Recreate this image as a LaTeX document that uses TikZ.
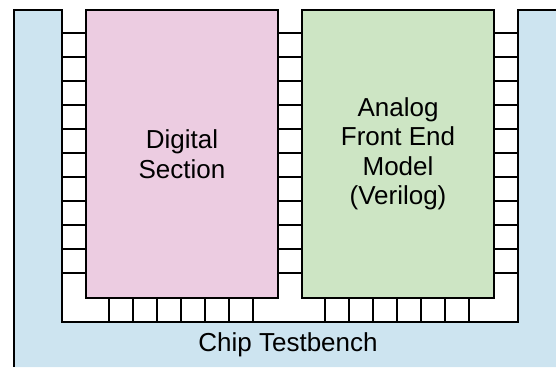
\documentclass[tikz,border=0pt]{standalone}
\usepackage{fontspec}
\setmainfont{Liberation Sans}
\usetikzlibrary{calc}
\definecolor{benchblue}{RGB}{205,228,240}
\definecolor{digitalpink}{RGB}{236,204,225}
\definecolor{afegreen}{RGB}{205,229,196}
\tikzset{pinline/.style={line width=1.6pt},
  block/.style={draw,line width=1.6pt,inner sep=0pt,minimum width=192pt,minimum height=288pt,align=center,font=\fontsize{26}{29.5}\selectfont}}
\newcommand{\sidepins}[2]{\foreach \k in {0,...,10} { \draw[pinline] ($ (#1) + (0,23.5+24*\k) $) -- ++( #2 ,0); }}
\newcommand{\bottompins}[1]{\foreach \k in {0,...,6} { \draw[pinline] ($ (#1) + (24+24*\k,0) $) -- ++(0,24); }}

\begin{document}
\begin{tikzpicture}[x=1pt,y=-1pt]
\useasboundingbox (0,0) rectangle (556,367);
\fill[white] (0,0) rectangle (556,367);
% testbench around the chip
\fill[benchblue] (14,367) -- (14,10) -- (62,10) -- (62,322) -- (518,322) -- (518,10) -- (556,10) -- (556,367) -- cycle;
\draw[pinline] (14,367) -- (14,10) -- (62,10) -- (62,322) -- (518,322) -- (518,10) -- (556,10);
\node[font=\fontsize{26}{29.5}\selectfont,anchor=base] (bench) at (288,351.7) {Chip Testbench};
% the two blocks
\node[block,fill=digitalpink] (digital) at (182,154) {Digital\\Section};
\node[block,fill=afegreen] (afe) at (398,154) {Analog\\Front End\\Model\\(Verilog)};
% pins on the sides
\sidepins{digital.north west}{-24}
\sidepins{digital.north east}{24}
\sidepins{afe.north east}{24}
% pins at the bottom
\bottompins{digital.south west}
\bottompins{afe.south west}
\end{tikzpicture}
\end{document}
